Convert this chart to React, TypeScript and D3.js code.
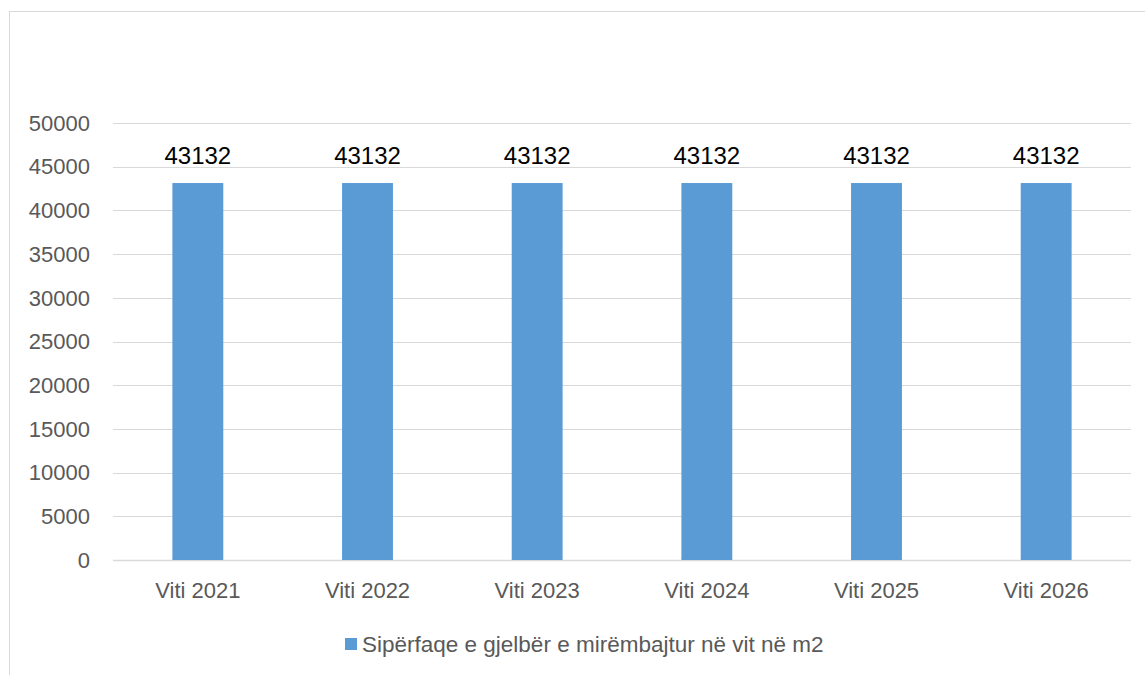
import { useEffect, useRef } from 'react';
import * as d3 from 'd3';

const categories = ['Viti 2021', 'Viti 2022', 'Viti 2023', 'Viti 2024', 'Viti 2025', 'Viti 2026'];
const values = [43132, 43132, 43132, 43132, 43132, 43132];
const yTicks = [0, 5000, 10000, 15000, 20000, 25000, 30000, 35000, 40000, 45000, 50000];
const seriesName = 'Sipërfaqe e gjelbër e mirëmbajtur në vit në m2';

const W = 1145;
const H = 675;
const FONT = '"Liberation Sans", Arial, sans-serif';

export default function App() {
    const svgRef = useRef<SVGSVGElement>(null);

    useEffect(() => {
        if (!svgRef.current) return;
        const svg = d3.select(svgRef.current);
        svg.selectAll('*').remove();

        const left = 113, right = 1131, top = 123, bottom = 560;

        // chart frame (right and bottom edges fall outside the picture)
        svg.append('rect')
            .attr('x', 9.5).attr('y', 11.5)
            .attr('width', W + 20).attr('height', H + 20)
            .attr('fill', '#fff')
            .attr('stroke', '#d9d9d9');

        const x = d3.scaleBand<string>()
            .domain(categories)
            .range([left, right])
            .paddingInner(0.7)
            .paddingOuter(0.35);

        const y = d3.scaleLinear().domain([0, 50000]).range([bottom, top]);

        // gridlines
        svg.append('g')
            .selectAll('line')
            .data(yTicks)
            .join('line')
            .attr('x1', left).attr('x2', right)
            .attr('y1', d => Math.round(y(d)) + 0.5)
            .attr('y2', d => Math.round(y(d)) + 0.5)
            .attr('stroke', '#d9d9d9')
            .attr('stroke-width', d => (d === 0 ? 1.5 : 1));

        // y tick labels
        svg.append('g')
            .selectAll('text')
            .data(yTicks)
            .join('text')
            .attr('x', 90)
            .attr('y', d => y(d))
            .attr('dy', '0.35em')
            .attr('text-anchor', 'end')
            .attr('font-family', FONT)
            .attr('font-size', 22)
            .attr('fill', '#595959')
            .text(d => d);

        // bars
        svg.append('g')
            .selectAll('rect')
            .data(values)
            .join('rect')
            .attr('x', (_, i) => x(categories[i])!)
            .attr('y', d => y(d))
            .attr('width', x.bandwidth())
            .attr('height', d => bottom - y(d))
            .attr('fill', '#5b9bd5');

        // data labels
        svg.append('g')
            .selectAll('text')
            .data(values)
            .join('text')
            .attr('x', (_, i) => x(categories[i])! + x.bandwidth() / 2)
            .attr('y', d => y(d) - 19)
            .attr('text-anchor', 'middle')
            .attr('font-family', FONT)
            .attr('font-size', 24)
            .attr('fill', '#000')
            .text(d => d);

        // category labels
        svg.append('g')
            .selectAll('text')
            .data(categories)
            .join('text')
            .attr('x', d => x(d)! + x.bandwidth() / 2)
            .attr('y', 598)
            .attr('text-anchor', 'middle')
            .attr('font-family', FONT)
            .attr('font-size', 22)
            .attr('fill', '#595959')
            .text(d => d);

        // legend
        const legend = svg.append('g');
        legend.append('rect')
            .attr('x', 345).attr('y', 638)
            .attr('width', 12).attr('height', 12)
            .attr('fill', '#5b9bd5');
        legend.append('text')
            .attr('x', 362).attr('y', 652)
            .attr('font-family', FONT)
            .attr('font-size', 22.5)
            .attr('fill', '#595959')
            .text(seriesName);
    }, []);

    return (
        <svg
            ref={svgRef}
            width={W}
            height={H}
            style={{ position: 'absolute', left: 0, top: 0, background: '#fff' }}
        />
    );
}
